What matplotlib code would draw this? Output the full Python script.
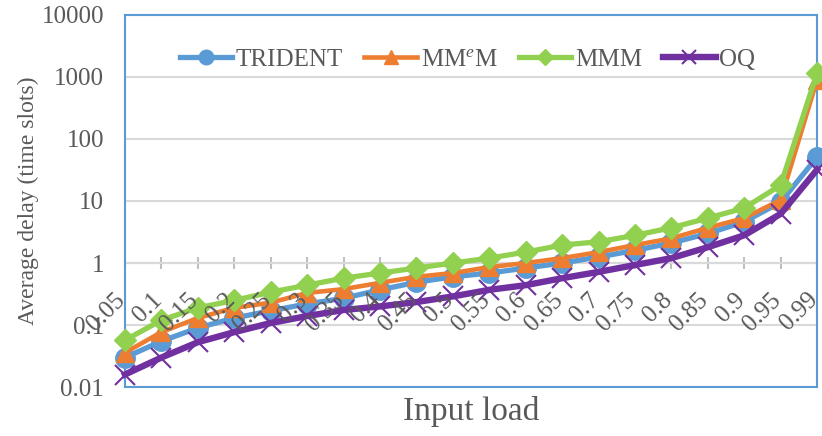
import numpy as np
import matplotlib
matplotlib.use('Agg')
import matplotlib.pyplot as plt
import matplotlib.transforms as mtransforms
from matplotlib.ticker import FixedLocator, FixedFormatter, NullLocator

plt.rcParams['font.family'] = ['Liberation Serif', 'DejaVu Serif']
plt.rcParams['mathtext.fontset'] = 'custom'
plt.rcParams['mathtext.rm'] = 'Liberation Serif'
plt.rcParams['mathtext.it'] = 'Liberation Serif:italic'

# input load categories
loads = ['0.05', '0.1', '0.15', '0.2', '0.25', '0.3', '0.35', '0.4', '0.45', '0.5',
         '0.55', '0.6', '0.65', '0.7', '0.75', '0.8', '0.85', '0.9', '0.95', '0.99']

# average delay (time slots)
trident = [0.03, 0.055, 0.09, 0.13, 0.17, 0.22, 0.27, 0.37, 0.49, 0.6,
           0.69, 0.83, 1.0, 1.25, 1.6, 2.1, 3.0, 4.6, 9.6, 51]
mmem = [0.036, 0.077, 0.13, 0.19, 0.23, 0.33, 0.38, 0.48, 0.6, 0.69,
        0.86, 1.0, 1.2, 1.5, 1.95, 2.5, 3.7, 5.3, 10.4, 900]
mmm = [0.057, 0.12, 0.19, 0.25, 0.34, 0.44, 0.57, 0.69, 0.83, 1.0,
       1.2, 1.5, 1.95, 2.2, 2.8, 3.7, 5.3, 7.7, 18, 1150]
oq = [0.016, 0.030, 0.053, 0.077, 0.108, 0.14, 0.175, 0.20, 0.235, 0.29,
      0.37, 0.44, 0.57, 0.72, 0.93, 1.2, 1.8, 2.8, 6.2, 32]

yticks = [0.01, 0.1, 1, 10, 100, 1000, 10000]
ytick_labels = ['0.01', '0.1', '1', '10', '100', '1000', '10000']

txt = '#595959'
frame_col = '#5B9BD5'
grid_col = '#D9D9D9'

fig = plt.figure(figsize=(8.22, 4.36), dpi=100)
ax = fig.add_axes([0.152, 0.112, 0.842, 0.854])

x = np.arange(len(loads))
ax.plot(x, trident, color='#5B9BD5', lw=3.8, marker='o', ms=14, label='TRIDENT', clip_on=False, zorder=3)
ax.plot(x, mmem, color='#ED7D31', lw=3.3, marker='^', ms=13, label=r'MM$^{e}$M', clip_on=False, zorder=4)
ax.plot(x, mmm, color='#92D050', lw=3.8, marker='D', ms=11, label='MMM', clip_on=False, zorder=5)
ax.plot(x, oq, color='#7030A0', lw=4.6, marker='x', ms=14, mew=1.5, label='OQ', clip_on=False, zorder=6)

ax.set_yscale('log')
ax.set_ylim(0.01, 10000)
ax.set_xlim(0, len(loads) - 1)
ax.yaxis.set_major_locator(FixedLocator(yticks))
ax.yaxis.set_major_formatter(FixedFormatter(ytick_labels))
ax.yaxis.set_minor_locator(NullLocator())
ax.tick_params(axis='y', length=0, labelsize=18, labelcolor=txt, pad=15)
ax.set_xticks([])
ax.grid(axis='y', color=grid_col, lw=1.5)
for s in ax.spines.values():
    s.set_color(frame_col)
    s.set_linewidth(1.5)

# category axis crossing at y = 1: line and ticks under the series
cat_ax = ax.secondary_xaxis(1 / 3)
cat_ax.set_zorder(1)
cat_ax.set_xticks(x, [''] * len(loads))
cat_ax.spines['bottom'].set_color('#BFBFBF')
cat_ax.spines['bottom'].set_linewidth(1.5)
cat_ax.tick_params(direction='inout', length=8.6, width=1.5, color='#BFBFBF')

# its labels drawn above the series
lab_ax = ax.secondary_xaxis(1 / 3)
lab_ax.set_zorder(10)
lab_ax.set_xticks(x, loads)
lab_ax.spines['bottom'].set_visible(False)
lab_ax.tick_params(length=0, labelsize=18, labelcolor=txt, pad=12)
shift = mtransforms.ScaledTranslation(5 / 100, -9 / 100, fig.dpi_scale_trans)
for lab in lab_ax.get_xticklabels():
    lab.set_rotation(45)
    lab.set_ha('right')
    lab.set_va('top')
    lab.set_transform(lab.get_transform() + shift)

ax.set_ylabel('Average delay (time slots)', fontsize=17, color=txt, labelpad=2)
ax.set_xlabel('Input load', fontsize=24, color=txt, labelpad=6)

ax.legend(loc='upper center', bbox_to_anchor=(0.495, 0.97), ncol=4, frameon=False,
          fontsize=18, labelcolor=txt, handlelength=2.1, columnspacing=0.85,
          handletextpad=0.15, markerscale=0.75)

fig.savefig('out.png', dpi=100)
